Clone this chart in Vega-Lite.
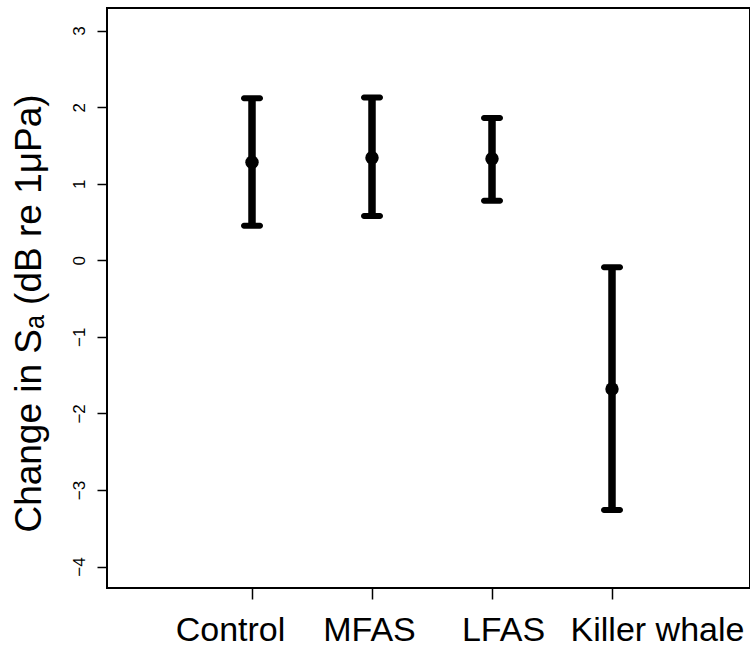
{
  "$schema": "https://vega.github.io/schema/vega-lite/v6.json",
  "autosize": {"type": "none"},
  "padding": {"left": 107, "top": 8, "right": 0, "bottom": 58},
  "width": 643,
  "height": 580,
  "background": "white",
  "config": {
    "view": {"stroke": "black", "strokeWidth": 2},
    "font": "Liberation Sans, Arial, sans-serif"
  },
  "data": {
    "values": [
      {"group": "Control", "mean": 1.28, "lower": 0.452, "upper": 2.116},
      {"group": "MFAS", "mean": 1.34, "lower": 0.579, "upper": 2.125},
      {"group": "LFAS", "mean": 1.327, "lower": 0.778, "upper": 1.858},
      {"group": "Killer whale", "mean": -1.681, "lower": -3.261, "upper": -0.091}
    ]
  },
  "encoding": {
    "x": {
      "field": "group",
      "type": "nominal",
      "sort": null,
      "scale": {
        "type": "point",
        "domain": ["Control", "MFAS", "LFAS", "Killer whale"],
        "padding": 0,
        "range": [145, 505]
      },
      "axis": {
        "title": null,
        "domain": false,
        "grid": false,
        "labelAngle": 0,
        "tickSize": 11,
        "tickWidth": 1.5,
        "tickColor": "black",
        "labelFont": "Liberation Sans, Arial, sans-serif",
        "labelFontSize": 34,
        "labelColor": "black",
        "labelPadding": 14,
        "labelOverlap": false,
        "labelFlush": false,
        "labelBound": false,
        "labelOffset": {
          "condition": [
            {"test": "datum.value === 'Control'", "value": -22},
            {"test": "datum.value === 'MFAS'", "value": -3},
            {"test": "datum.value === 'LFAS'", "value": 11}
          ],
          "value": 45
        }
      }
    }
  },
  "layer": [
    {
      "mark": {"type": "rule", "color": "black", "strokeWidth": 7.5},
      "encoding": {
        "y": {
          "field": "lower",
          "type": "quantitative",
          "scale": {"domain": [-4.28, 3.295], "nice": false, "zero": false},
          "axis": {
            "title": "Change in Sₐ (dB re 1μPa)",
            "values": [-4, -3, -2, -1, 0, 1, 2, 3],
            "format": "d",
            "domain": false,
            "grid": false,
            "tickSize": 10,
            "tickWidth": 1.5,
            "tickColor": "black",
            "labelAngle": -90,
            "labelAlign": "center",
            "labelBaseline": "bottom",
            "labelFont": "Liberation Sans, Arial, sans-serif",
            "labelFontSize": 17,
            "labelColor": "black",
            "labelPadding": 9,
            "titleFont": "Liberation Sans, Arial, sans-serif",
            "titleFontSize": 37,
            "titleFontWeight": "normal",
            "titleColor": "black",
            "titleAngle": -90,
            "titleAlign": "center",
            "titleBaseline": "alphabetic",
            "titleX": -67,
            "titleY": 305
          }
        },
        "y2": {"field": "upper"}
      }
    },
    {
      "mark": {"type": "tick", "orient": "horizontal", "color": "black", "size": 22, "thickness": 6, "cornerRadius": 3, "opacity": 1},
      "encoding": {"y": {"field": "upper", "type": "quantitative"}}
    },
    {
      "mark": {"type": "tick", "orient": "horizontal", "color": "black", "size": 22, "thickness": 6, "cornerRadius": 3, "opacity": 1},
      "encoding": {"y": {"field": "lower", "type": "quantitative"}}
    },
    {
      "mark": {"type": "point", "shape": "circle", "filled": true, "color": "black", "size": 180, "opacity": 1},
      "encoding": {"y": {"field": "mean", "type": "quantitative"}}
    }
  ]
}
